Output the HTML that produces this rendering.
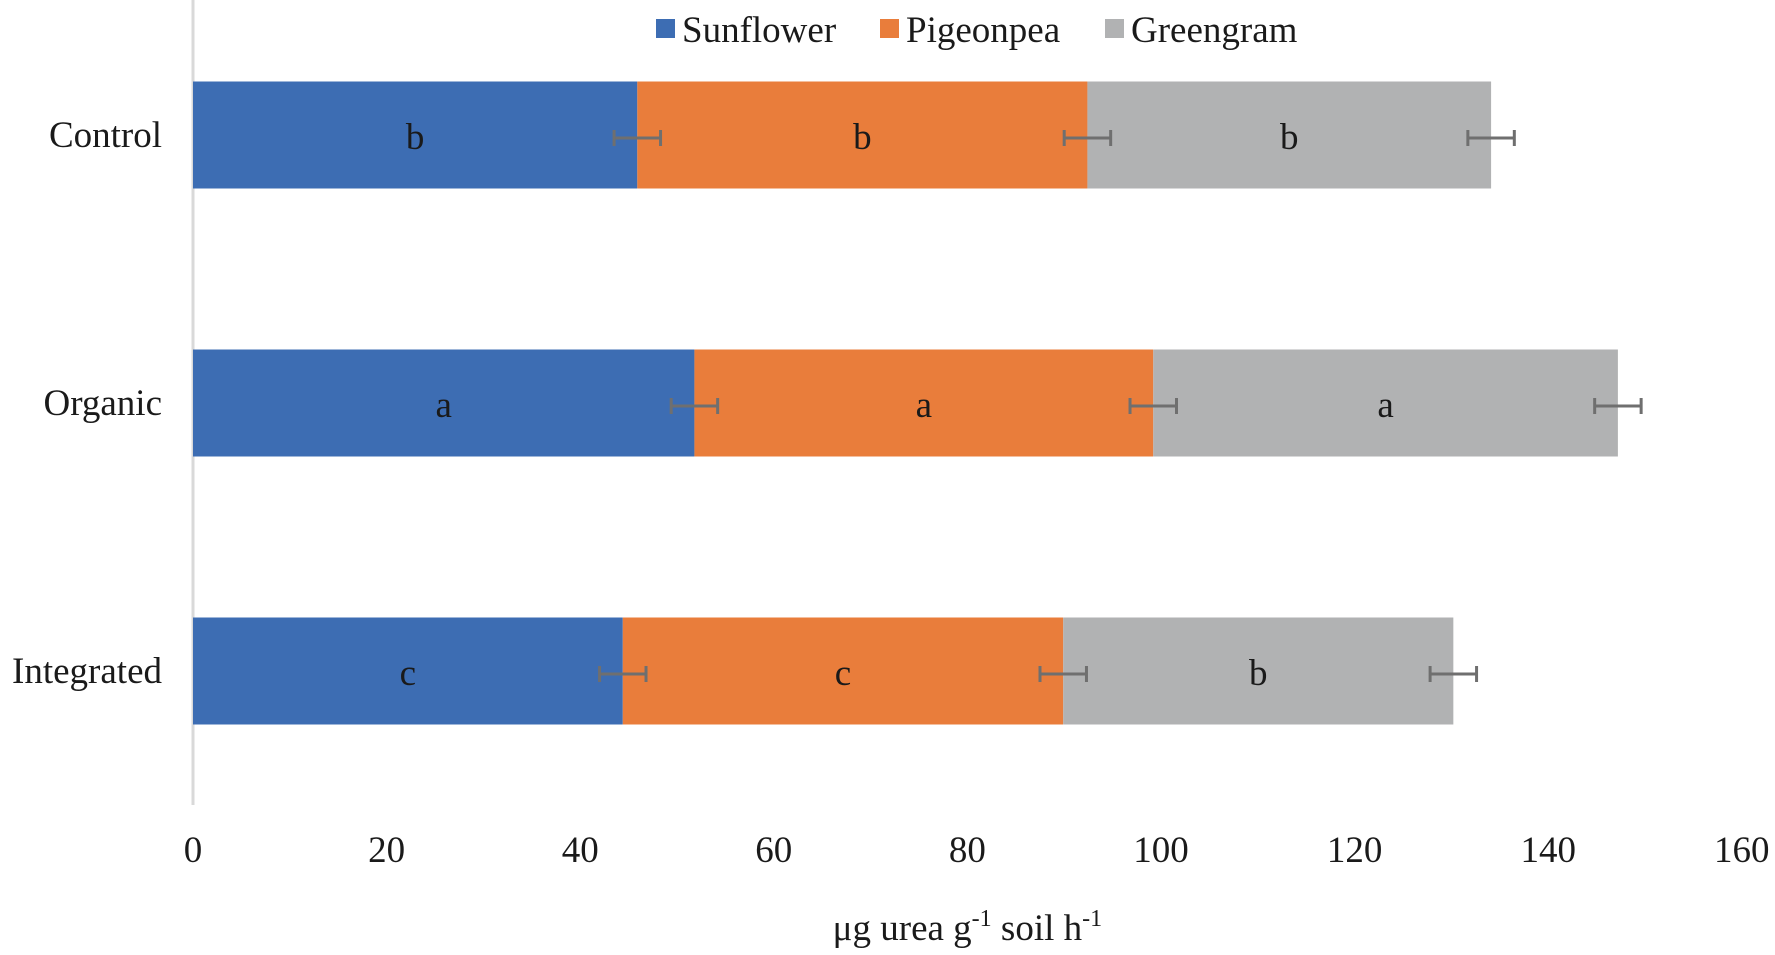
<!DOCTYPE html>
<html><head><meta charset="utf-8"><style>
html,body{margin:0;padding:0;background:#fff;}
svg text{font-family:"Liberation Serif",serif;fill:#1a1a1a;}
</style></head><body>
<svg id="chart" width="1775" height="950" viewBox="0 0 1775 950" xmlns="http://www.w3.org/2000/svg"></svg>
<script>
const categories = ["Control","Organic","Integrated"];
const seriesNames = ["Sunflower","Pigeonpea","Greengram"];
const sunflower = [45.9, 51.8, 44.4];
const pigeonpea = [46.5, 47.4, 45.5];
const greengram = [41.7, 48.0, 40.3];
const errSunflower = [2.4, 2.4, 2.4];
const errPigeonpea = [2.4, 2.4, 2.4];
const errGreengram = [2.4, 2.4, 2.4];
const lettersSunflower = ["b","a","c"];
const lettersPigeonpea = ["b","a","c"];
const lettersGreengram = ["b","a","b"];
const xTicks = [0,20,40,60,80,100,120,140,160];

const colors = ["#3d6db3","#e97d3b","#b1b2b3"];
const svg = document.getElementById('chart');
const NS = "http://www.w3.org/2000/svg";
const x0 = 193, pxPerUnit = 9.68;
function xs(v){ return x0 + v*pxPerUnit; }
const bandH = 268, barH = 107;
function yc(i){ return 135 + i*bandH; }
function mk(tag, attrs){ const e=document.createElementNS(NS,tag); for(const k in attrs) e.setAttribute(k,attrs[k]); svg.appendChild(e); return e; }

let ax = mk('line',{x1:x0,y1:0,x2:x0,y2:805,stroke:'#d9d9d9','stroke-width':3});



const series=[sunflower,pigeonpea,greengram];
const errs=[errSunflower,errPigeonpea,errGreengram];
const letters=[lettersSunflower,lettersPigeonpea,lettersGreengram];
const keys=['sunflower','pigeonpea','greengram'];

// bars first
categories.forEach((c,i)=>{
  let cum=0;
  const t=mk('text',{x:162,y:yc(i)+12,'text-anchor':'end','font-size':37});
  t.textContent=c;
  
  
  series.forEach((s,k)=>{
    const start=cum; cum+=s[i];
    const r=mk('rect',{x:xs(start),y:yc(i)-barH/2,width:xs(cum)-xs(start),height:barH,fill:colors[k]});
    
    
  });
});
// letters and error bars on top
categories.forEach((c,i)=>{
  let cum=0;
  series.forEach((s,k)=>{
    const start=cum; cum+=s[i];
    const l=mk('text',{x:(xs(start)+xs(cum))/2,y:yc(i)+14,'text-anchor':'middle','font-size':37});
    l.textContent=letters[k][i];
    
    
    const e=errs[k][i], y=yc(i)+3;
    const g=document.createElementNS(NS,'g'); svg.appendChild(g);
    
    
    [[xs(cum-e),y,xs(cum+e),y],[xs(cum-e),y-8,xs(cum-e),y+8],[xs(cum+e),y-8,xs(cum+e),y+8]].forEach(p=>{
      const ln=document.createElementNS(NS,'line');
      ln.setAttribute('x1',p[0]);ln.setAttribute('y1',p[1]);ln.setAttribute('x2',p[2]);ln.setAttribute('y2',p[3]);
      ln.setAttribute('stroke','#6f6f6f');ln.setAttribute('stroke-width',3);
      g.appendChild(ln);
    });
  });
});

xTicks.forEach(v=>{
  const t=mk('text',{x:xs(v),y:862,'text-anchor':'middle','font-size':37});
  t.textContent=v;
  
  
});
const title=mk('text',{x:xs(80),y:940,'text-anchor':'middle','font-size':37});
title.innerHTML='μg urea g<tspan dy="-14" font-size="24">-1</tspan><tspan dy="14"> soil h</tspan><tspan dy="-14" font-size="24">-1</tspan>';



const legX=[656,880,1105];
seriesNames.forEach((n,k)=>{
  const sw=mk('rect',{x:legX[k],y:19,width:19,height:19,fill:colors[k]});
  
  
  const t=mk('text',{x:legX[k]+26,y:42,'font-size':37});
  t.textContent=n;
  
  
});
</script>
</body></html>
